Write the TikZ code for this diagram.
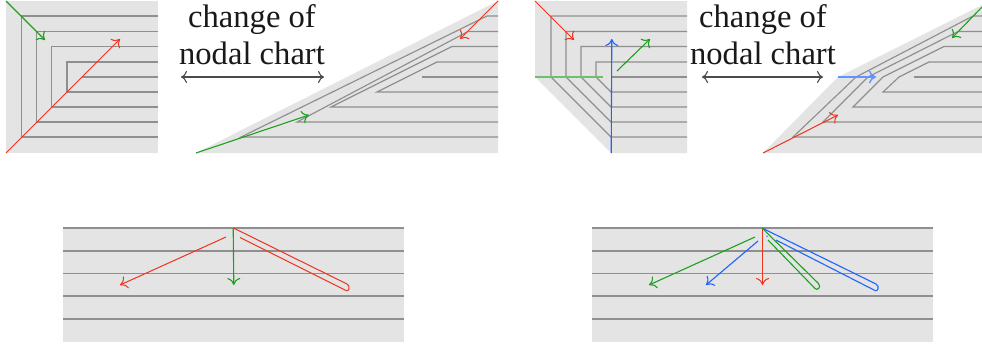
\documentclass[tikz,border=0pt]{standalone}
\usepackage{fontspec}
\setmainfont{Liberation Serif}
\usetikzlibrary{arrows.meta}
\definecolor{panelbg}{gray}{0.895}
\definecolor{nodalgray}{gray}{0.56}
\definecolor{chartred}{RGB}{240,50,30}
\definecolor{chartgreen}{RGB}{30,160,30}
\definecolor{chartblue}{RGB}{30,100,255}
\tikzset{
  x=1pt,y=-1pt,
  panel/.style={fill=panelbg,draw=none},
  nodal/.style={draw=nodalgray,line width=1.15pt,line join=miter},
  tip/.style={-{Computer Modern Rightarrow[length=7pt,width=13pt]}},
  redray/.style={draw=chartred,line width=1pt},
  greenray/.style={draw=chartgreen,line width=1.1pt},
  blueray/.style={draw=chartblue,line width=1.1pt},
  chartlabel/.style={align=center,font=\fontsize{32.6}{37}\selectfont,inner sep=0pt,text=black!90},
  chartarrow/.style={draw=black!70,line width=1.1pt,{Computer Modern Rightarrow[length=6pt,width=12pt]}-{Computer Modern Rightarrow[length=6pt,width=12pt]}},
}
\begin{document}
\begin{tikzpicture}
\useasboundingbox (0,0) rectangle (982,349);
\fill[white] (0,0) rectangle (982,349);

% panel 1
\fill[panel] (6,1) rectangle (158,153);
\draw[nodal] (158,16)--(21.5,16)--(21.5,137)--(158,137);
\draw[nodal] (158,31.5)--(36.5,31.5)--(36.5,122)--(158,122);
\draw[nodal] (158,46.5)--(51.5,46.5)--(51.5,107)--(158,107);
\draw[nodal] (158,62)--(67,62)--(67,92)--(158,92);
\draw[nodal] (82,77)--(158,77);
\draw[redray,tip] (6,153)--(120,39);
\draw[greenray,tip] (6,1)--(45,40);

% panel 2
\fill[panel] (196,153)--(498,1)--(498,153)--cycle;
\draw[nodal] (498,16)--(487,16)--(241,137)--(498,137);
\draw[nodal] (498,31.5)--(468,31.5)--(297,122)--(498,122);
\draw[nodal] (498,46.5)--(452,46.5)--(331,107)--(498,107);
\draw[nodal] (498,62)--(437,62)--(377,92)--(498,92);
\draw[nodal] (422,77)--(498,77);
\draw[greenray,tip] (196,153)--(309,115);
\draw[redray,tip] (498,1)--(460,39);

% panel 3
\fill[panel] (535,1)--(687,1)--(687,153)--(611,153)--(535,77)--cycle;
\draw[nodal] (687,16)--(551,16)--(551,77)--(611,137)--(687,137);
\draw[nodal] (687,31.5)--(566,31.5)--(566,77)--(611,122)--(687,122);
\draw[nodal] (687,46.5)--(581,46.5)--(581,77)--(611,107)--(687,107);
\draw[nodal] (687,62)--(596,62)--(596,77)--(611,92)--(687,92);
\draw[nodal] (611,77)--(687,77);
\draw[greenray,draw=chartgreen!65,line width=1.5pt] (535,77)--(603,77);
\draw[blueray,tip] (611.2,153)--(611.8,39);
\draw[greenray,tip] (617,71)--(650,39);
\draw[redray,tip] (535,1)--(574,40);

% panel 4
\fill[panel] (763,153)--(838,77)--(982,5)--(982,153)--cycle;
\draw[nodal] (982,16)--(973,16)--(856,77)--(793,137)--(982,137);
\draw[nodal] (982,31.5)--(958,31.5)--(868,77)--(823,122)--(982,122);
\draw[nodal] (982,46.5)--(944,46.5)--(883,77)--(853,107)--(982,107);
\draw[nodal] (982,62)--(929,62)--(899,77)--(883,92)--(982,92);
\draw[nodal] (914,77)--(982,77);
\draw[blueray,draw=chartblue!70,line width=1.4pt,tip] (838,77)--(876,77);
\draw[redray,tip] (763,153)--(838,115);
\draw[greenray,tip] (982,7)--(952,38);

% labels and chart arrows
\node[chartlabel] (labelA) at (252,34.5) {change of\\nodal chart};
\node[chartlabel] (labelB) at (763,34.5) {change of\\nodal chart};
\coordinate (aL) at (181,77);
\coordinate (aR) at (324,77);
\coordinate (bL) at (702,77);
\coordinate (bR) at (823,77);
\draw[chartarrow] (aL)--(aR);
\draw[chartarrow] (bL)--(bR);

% panel 5
\fill[panel] (63,228) rectangle (404,342);
\foreach \yy in {228,251,273.5,296,319}
  \draw[nodal] (63,\yy)--(404,\yy);
\draw[redray,tip] (226,237)--(120,285);
\draw[greenray,tip] (233.2,228)--(233.8,285);
\draw[redray,line join=round] (233.5,228)--(347,284) .. controls (349,285) and (349.5,287) .. (349,289) .. controls (348.5,291) and (347,291) .. (346,290.5)--(240,237.5);

% panel 6
\fill[panel] (592,228) rectangle (933,342);
\foreach \yy in {228,251,273.5,296,319}
  \draw[nodal] (592,\yy)--(933,\yy);
\draw[blueray,line join=round] (762,228)--(876,284) .. controls (878,285) and (878.5,287) .. (878,289) .. controls (877.5,291) and (876,291) .. (875,290.5)--(776,240);
\draw[blueray] (767.5,236.5)--(766.5,236);
\draw[greenray,tip] (755,237)--(649,285);
\draw[blueray,tip] (758,241)--(706,285);
\draw[redray,tip] (762.5,228)--(762.5,285);
\draw[greenray,line join=round] (762,228)--(818,283) .. controls (820,285) and (820,287) .. (819,288) .. controls (817.5,290) and (816,289.5) .. (815,288.5)--(768,240);
\end{tikzpicture}
\end{document}
